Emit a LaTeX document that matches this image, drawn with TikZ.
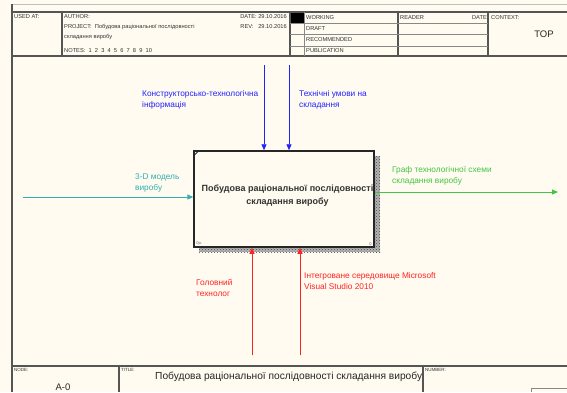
\documentclass[tikz,border=0pt]{standalone}
\usepackage{fontspec}
\setmainfont{Liberation Sans}
\usetikzlibrary{arrows.meta,patterns}
\definecolor{bg}{HTML}{FFFBF0}
\definecolor{frame}{HTML}{555555}
\definecolor{ctrlc}{HTML}{2222FF}
\definecolor{inc}{HTML}{30AFAF}
\definecolor{outc}{HTML}{44C444}
\definecolor{mechc}{HTML}{FF2222}
\tikzset{
  frameline/.style={draw=frame, line width=1.2pt},
  thinline/.style={draw=frame!70, line width=0.8pt},
  tiny/.style={inner sep=0pt, anchor=west, font=\fontsize{5.7}{6}\selectfont, text=black!80},
  lbl/.style={inner sep=0pt, anchor=north west, align=left, font=\fontsize{8.3}{11}\selectfont},
  arr/.style={line width=0.9pt, -{Triangle[length=6pt,width=5pt]}},
  ctrlarrow/.style={arr, draw=ctrlc, fill=ctrlc},
  inarrow/.style={arr, draw=inc, fill=inc},
  outarrow/.style={arr, draw=outc, fill=outc},
  mecharrow/.style={arr, draw=mechc, fill=mechc},
  shadowfill/.style={fill=black!30, postaction={pattern=crosshatch dots, pattern color=black!70}},
}
\begin{document}
\begin{tikzpicture}[x=1pt,y=-1pt]
\useasboundingbox (0,0) rectangle (567,392);
\fill[bg] (0,0) rectangle (567,392);
% outer frame
\draw[draw=black!25, line width=0.6pt] (12,4) -- (567,4);
\draw[frameline] (12,4) -- (12,392);
\draw[frameline] (12,12) -- (567,12);
\draw[frameline] (12,56) -- (567,56);
\draw[frameline] (12,366) -- (567,366);
% header columns
\draw[frameline] (62,12) -- (62,56);
\draw[frameline] (290,12) -- (290,56);
\draw[thinline] (304,12) -- (304,56);
\draw[frameline] (398,12) -- (398,56);
\draw[frameline] (488,12) -- (488,56);
\foreach \yy in {23,34,46} \draw[thinline] (290,\yy) -- (488,\yy);
\fill[black] (291,12.6) rectangle (304,23);
% header texts
\node[tiny] (usedat) at (14,17) {USED AT:};
\node[tiny] (author) at (64,17) {AUTHOR:};
\node[tiny] (project) at (64,27) {PROJECT:\ \ Побудова раціональної послідовності};
\node[tiny] (project2) at (64,37) {складання виробу};
\node[tiny] (notes) at (64,51) {NOTES:\ \ 1\ \ 2\ \ 3\ \ 4\ \ 5\ \ 6\ \ 7\ \ 8\ \ 9\ \ 10};
\node[tiny, anchor=east] (date) at (287,17) {DATE:\ 29.10.2016};
\node[tiny, anchor=east] (rev) at (287,27) {REV:\ \ \ 29.10.2016};
\node[tiny] (working) at (306,17.5) {WORKING};
\node[tiny] (draft) at (306,28.5) {DRAFT};
\node[tiny] (recomm) at (306,40) {RECOMMENDED};
\node[tiny] (public) at (306,51) {PUBLICATION};
\node[tiny] (reader) at (400,17.5) {READER};
\node[tiny, anchor=east] (rdate) at (487,17.5) {DATE};
\node[tiny] (context) at (491,17.5) {CONTEXT:};
\node[inner sep=0pt, font=\fontsize{9.5}{10}\selectfont, text=black!85] (top) at (544,34) {TOP};
% footer
\draw[frameline] (119,366) -- (119,392);
\draw[frameline] (423,366) -- (423,392);
\draw[thinline] (531,392) -- (531,388) -- (567,388);
\node[tiny, font=\fontsize{4.5}{5}\selectfont] (nodelbl) at (14,370) {NODE:};
\node[tiny, font=\fontsize{4.5}{5}\selectfont] (titlelbl) at (121,370) {TITLE:};
\node[tiny, font=\fontsize{4.5}{5}\selectfont] (numlbl) at (425,370) {NUMBER:};
\node[inner sep=0pt, font=\fontsize{9.5}{10}\selectfont, text=black!85] (nodeid) at (63,387) {A-0};
\node[inner sep=0pt, anchor=west, font=\fontsize{10.2}{11}\selectfont, text=black!85] (title) at (155,376.5) {Побудова раціональної послідовності складання виробу};
% shadow
\path[shadowfill] (374,156) rectangle (380,252);
\path[shadowfill] (199,247) rectangle (380,252);
% main box
\node[draw=black!85, line width=1.5pt, fill=bg, minimum width=180pt, minimum height=96pt, inner sep=0pt] (box) at (284,199) {};
\draw[black!85, line width=0.8pt] ([xshift=1pt,yshift=-5pt]box.north west) -- ([xshift=5pt,yshift=-1pt]box.north west);
\node[inner sep=0pt, align=center, font=\bfseries\fontsize{9}{13}\selectfont, text=black!80] (boxtxt) at (287.5,196) {Побудова раціональної послідовності\\складання виробу};
\node[inner sep=0pt, anchor=south west, font=\fontsize{4}{4}\selectfont, text=black!60] (cost) at ([xshift=3pt,yshift=2pt]box.south west) {0р.};
\node[inner sep=0pt, anchor=south east, font=\fontsize{4}{4}\selectfont, text=black!60] (boxnum) at ([xshift=-3pt,yshift=2pt]box.south east) {0};
% controls
\coordinate (c1) at (264,65);
\coordinate (c2) at (289,65);
\draw[ctrlarrow] (c1) -- (c1 |- box.north);
\draw[ctrlarrow] (c2) -- (c2 |- box.north);
\node[lbl, text=ctrlc] (c1lbl) at (142,90.5) {Конструкторсько-технологічна\\інформація};
\node[lbl, text=ctrlc] (c2lbl) at (299,90.5) {Технічні умови на\\складання};
% input
\coordinate (i1) at (23,197);
\draw[inarrow] (i1) -- (i1 -| box.west);
\node[lbl, text=inc] (i1lbl) at (135,173.5) {3-D модель\\виробу};
% output
\coordinate (o1) at (558,192);
\draw[outarrow] (o1 -| box.east) -- (o1);
\node[lbl, text=outc] (o1lbl) at (392,166.5) {Граф технологічної схеми\\складання виробу};
% mechanisms
\coordinate (m1) at (252,355);
\coordinate (m2) at (300,355);
\draw[mecharrow] (m1) -- (m1 |- box.south);
\draw[mecharrow] (m2) -- (m2 |- box.south);
\node[lbl, text=mechc] (m1lbl) at (196,279.5) {Головний\\технолог};
\node[lbl, text=mechc] (m2lbl) at (304,272.5) {Інтегроване середовище Microsoft\\Visual Studio 2010};
\end{tikzpicture}
\end{document}
